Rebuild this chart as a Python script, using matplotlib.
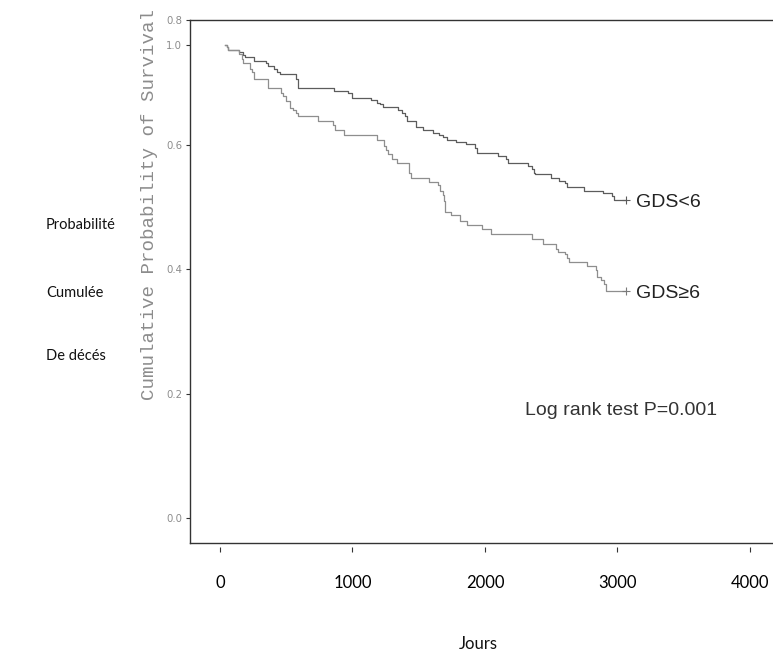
import matplotlib
matplotlib.use('Agg')
import matplotlib.pyplot as plt

# Kaplan-Meier steps (days, value on the drawn y scale)
days_low = [38, 50, 63, 143, 176, 189, 259, 345, 365, 410, 428, 453, 571, 586,
            863, 964, 994, 1137, 1183, 1208, 1228, 1346, 1371, 1396, 1409, 1479,
            1530, 1610, 1655, 1680, 1715, 1781, 1857, 1925, 1942, 2098, 2158,
            2176, 2327, 2352, 2370, 2377, 2496, 2561, 2604, 2621, 2747, 2888,
            2956, 2974, 3064]
surv_low = [.760, .756, .752, .748, .744, .741, .734, .731, .726, .721, .716,
            .713, .706, .690, .686, .682, .675, .671, .667, .665, .660, .656,
            .651, .646, .638, .628, .624, .619, .615, .612, .608, .604, .601,
            .594, .587, .581, .576, .570, .566, .561, .554, .552, .547, .542,
            .538, .532, .526, .522, .517, .511, .511]

days_high = [38, 50, 63, 143, 164, 176, 226, 244, 259, 360, 460, 478, 496, 528,
             553, 571, 586, 737, 855, 868, 938, 1183, 1238, 1253, 1270, 1296,
             1333, 1429, 1439, 1580, 1648, 1660, 1680, 1691, 1698, 1741, 1811,
             1866, 1975, 2045, 2352, 2440, 2536, 2553, 2604, 2616, 2636, 2772,
             2838, 2848, 2873, 2898, 2913, 3064]
surv_high = [.760, .756, .752, .745, .737, .731, .722, .716, .706, .690, .683,
             .678, .670, .659, .655, .650, .646, .638, .632, .624, .615, .608,
             .597, .592, .584, .577, .570, .554, .547, .540, .535, .526, .519,
             .509, .492, .487, .478, .471, .464, .456, .448, .441, .433, .428,
             .424, .417, .412, .405, .398, .388, .382, .376, .365, .365]

group_labels = ['GDS<6', 'GDS\u22656']
x_ticks = [0, 1000, 2000, 3000, 4000]
y_tick_pos = [0.0, 0.2, 0.4, 0.6, 0.76, 0.8]
y_tick_labels = ['0.0', '0.2', '0.4', '0.6', '1.0', '0.8']
side_labels = ['Probabilité', 'Cumulée', 'De décés']


def main():
    W, H = 773, 657
    fig = plt.figure(figsize=(W / 100, H / 100), dpi=100)
    ax = fig.add_axes([190 / W, 1 - 543.3 / H, 1 - 190 / W, (543.3 - 20) / H])

    # survival curves
    ax.step(days_low, surv_low, where='post', color='#5c5c5c', lw=0.9)
    ax.step(days_high, surv_high, where='post', color='#8e8e8e', lw=0.9)
    for d, s, c in [(days_low, surv_low, '#5c5c5c'), (days_high, surv_high, '#7a7a7a')]:
        ax.plot(d[-1], s[-1], marker='+', ms=6, mew=0.8, color=c)

    for d, s, lab in [(days_low, surv_low, group_labels[0]),
                      (days_high, surv_high, group_labels[1])]:
        ax.annotate(lab, xy=(d[-1], s[-1]), xytext=(7.5, -2),
                    textcoords='offset points', va='center', ha='left',
                    fontsize=14, color='#222222', family='Liberation Sans')

    ax.text(0.5746, 0.2547, 'Log rank test P=0.001', transform=ax.transAxes,
            va='center', ha='left', fontsize=14, color='#333333',
            family='Liberation Sans')

    ax.set_xlim(-226, 4174)
    ax.set_ylim(-0.0404, 0.8)

    for side in ['left', 'top', 'bottom']:
        ax.spines[side].set_color('#333333')
        ax.spines[side].set_linewidth(1.0)
    ax.spines['right'].set_visible(False)

    ax.set_yticks(y_tick_pos, y_tick_labels)
    ax.tick_params(axis='y', length=3, width=0.8, pad=2.7, color='#333333',
                   labelsize=7.3, labelcolor='#8c8c8c')
    ax.tick_params(axis='x', bottom=False, labelbottom=False)

    # separate day axis just under the frame
    sec = ax.secondary_xaxis(-0.0065)
    sec.set_xticks(x_ticks, [str(v) for v in x_ticks], fontsize=12, family='Lato')
    sec.spines['bottom'].set_visible(False)
    sec.tick_params(length=3.6, width=0.8, pad=16.5, color='#333333')

    fig.text(150 / W, 1 - 205 / H, 'Cumulative Probability of Survival',
             rotation=90, ha='center', va='center', family='Liberation Mono',
             fontsize=13.8, color='#8c8c8c')

    for lab, y in zip(side_labels, [225, 293, 356]):
        fig.text(46 / W, 1 - y / H, lab, ha='left', va='center',
                 family='Lato', fontsize=10.5, color='#111111')

    fig.text(478 / W, 1 - 644 / H, 'Jours', ha='center', va='center',
             family='Lato', fontsize=12, color='#111111')

    fig.savefig('out.png', dpi=100)


if __name__ == "__main__":
    main()
